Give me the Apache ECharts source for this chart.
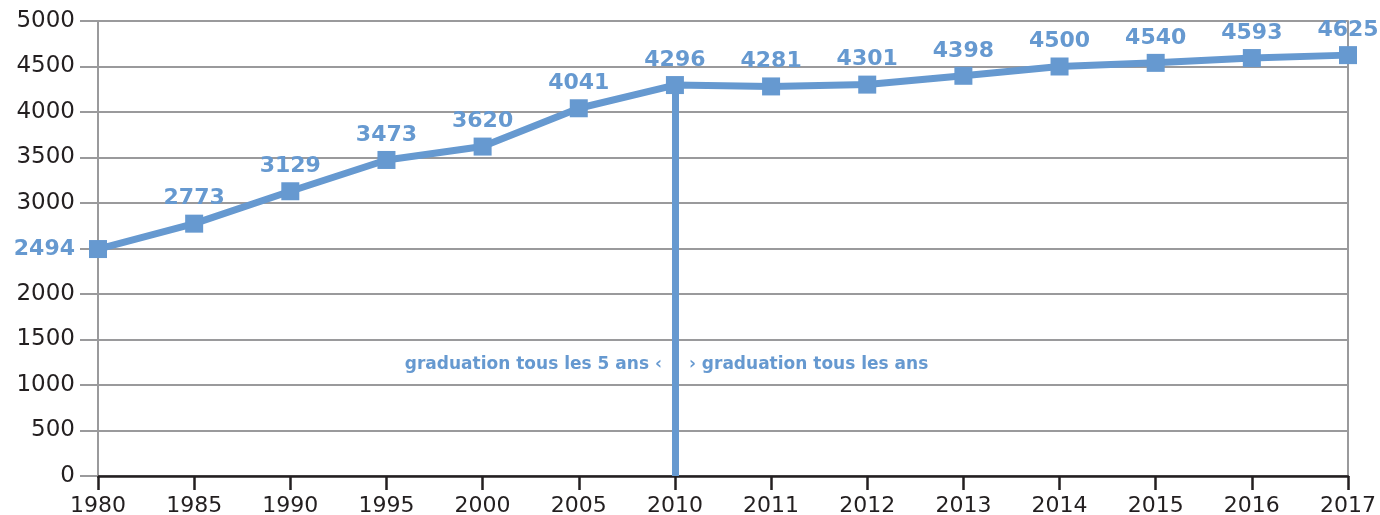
<!DOCTYPE html>
<html>
<head>
<meta charset="utf-8">
<script src="https://cdn.jsdelivr.net/npm/echarts@6/dist/echarts.min.js"></script>
<style>
html,body{margin:0;padding:0;background:#fff;}
#c{width:1380px;height:515px;}
</style>
</head>
<body>
<div id="c"></div>
<script>
var categories = ['1980','1985','1990','1995','2000','2005','2010','2011','2012','2013','2014','2015','2016','2017'];
var values = [2494,2773,3129,3473,3620,4041,4296,4281,4301,4398,4500,4540,4593,4625];
var yTicks = {min:0, max:5000, interval:500};
var hiddenYLabel = 2500;
var noteLeft = 'graduation tous les 5 ans ‹';
var noteRight = '› graduation tous les ans';
var noteValue = 1222;
var breakCategory = '2010';

var blue = '#6699d0';
var grey = '#9a9a9c';
var font = 'DejaVu Sans';

var chart = echarts.init(document.getElementById('c'));
var seriesData = values.map(function(v,i){
  if(i===0){ return {value:v, label:{position:'left', distance:14}}; }
  return v;
});
chart.setOption({
  animation:false,
  grid:{left:98, right:32, top:21, bottom:39, containLabel:false, outerBoundsMode:'none'},
  xAxis:{
    type:'category', data:categories, boundaryGap:false,
    axisLine:{lineStyle:{color:'#231f20', width:2.5}},
    axisTick:{length:14, interval:0, lineStyle:{color:'#231f20', width:2.5}},
    axisLabel:{interval:0, color:'#231f20', fontFamily:font, fontSize:22, margin:19},
    splitLine:{show:false}
  },
  yAxis:[{
    type:'value', min:yTicks.min, max:yTicks.max, interval:yTicks.interval,
    axisLine:{show:true, lineStyle:{color:grey, width:2}},
    axisTick:{show:true, length:18, lineStyle:{color:grey, width:2}},
    axisLabel:{color:'#231f20', fontFamily:font, fontSize:23, margin:23,
      formatter:function(v){ return v===hiddenYLabel ? '' : String(v); }},
    splitLine:{show:true, lineStyle:{color:grey, width:2}}
  },{
    type:'value', min:yTicks.min, max:yTicks.max, interval:yTicks.interval, position:'right',
    axisLine:{show:true, lineStyle:{color:grey, width:2}},
    axisTick:{show:false}, axisLabel:{show:false}, splitLine:{show:false}
  }],
  series:[{
    type:'line', data:seriesData, yAxisIndex:0,
    symbol:'rect', symbolSize:18,
    lineStyle:{color:blue, width:7},
    itemStyle:{color:blue},
    label:{show:true, position:'top', distance:5, color:blue, fontFamily:font, fontWeight:'bold', fontSize:22},
    markLine:{
      silent:true, symbol:['none','none'], label:{show:false},
      lineStyle:{color:blue, width:7, type:'solid'},
      data:[[{coord:[breakCategory, values[categories.indexOf(breakCategory)]]},{coord:[breakCategory, 0]}]]
    },
    markPoint:{
      silent:true, symbol:'rect', symbolSize:0,
      data:[
        {coord:[breakCategory, noteValue], label:{show:true, position:'left', distance:13, formatter:noteLeft, color:blue, fontFamily:font, fontWeight:'bold', fontSize:17}},
        {coord:[breakCategory, noteValue], label:{show:true, position:'right', distance:14, formatter:noteRight, color:blue, fontFamily:font, fontWeight:'bold', fontSize:17}}
      ]
    },
    z:3
  }]
});
</script>
</body>
</html>
